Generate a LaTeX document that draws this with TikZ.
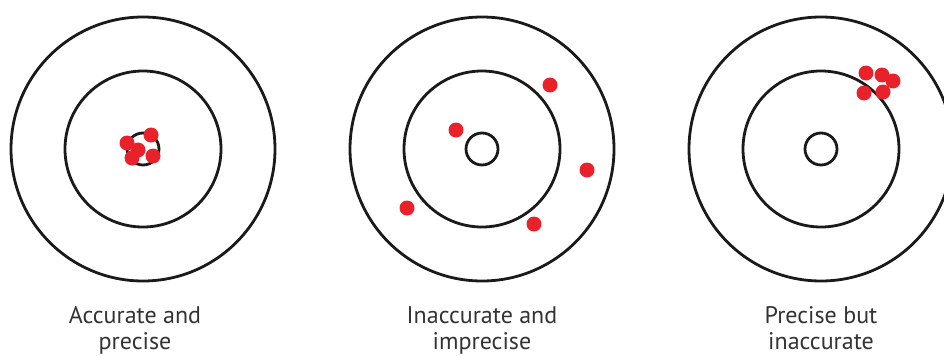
\documentclass[tikz,border=0pt]{standalone}
\usepackage{fontspec}
\setmainfont{PT Sans}
\usetikzlibrary{positioning}

\begin{document}
\begin{tikzpicture}[
    x=1pt, y=-1pt,
    every node/.style={font=\fontsize{24}{26.5}\selectfont},
    ring/.style={circle, draw=ringcolor, line width=2.8pt, inner sep=0pt},
    hit/.style={circle, fill=hitcolor, inner sep=0pt, minimum size=15pt},
]

\definecolor{ringcolor}{HTML}{1A1A1A}
\definecolor{hitcolor}{HTML}{E8212A}   % every shot
\definecolor{textcolor}{HTML}{333333}

% pixel frame of the whole picture
\useasboundingbox (0, 0) rectangle (944, 356);
\clip (0, 0) rectangle (944, 356);

% ------------------------------------------------------------ the three targets
\foreach \name/\cx in {acc/143, imp/482, off/821} {
    \node[ring, minimum size=264pt] (\name-outer) at (\cx, 149) {};
    \node[ring, minimum size=156pt] (\name-inner) at (\cx, 149) {};
    \node[ring, minimum size=32pt]  (\name-eye)   at (\cx, 149) {};
}

% ------------------------------------------------------------ the shots
% accurate and precise: a tight group on the eye
\foreach \i/\x/\y in {1/151/135, 2/127/143, 3/138/150, 4/132/158, 5/153/156}
    \node[hit] (acc-hit\i) at (\x, \y) {};

% inaccurate and imprecise: spread all over
\foreach \i/\x/\y in {1/550/85, 2/456/130, 3/587/170, 4/407/208, 5/534/224}
    \node[hit] (imp-hit\i) at (\x, \y) {};

% precise but inaccurate: a tight group, far from the eye
\foreach \i/\x/\y in {1/866/73, 2/882/75, 3/893/81, 4/864/93, 5/883/92}
    \node[hit] (off-hit\i) at (\x, \y) {};

% ------------------------------------------------------------ captions
% anchor=base sits on the last line here
\node[anchor=base, align=center, text=textcolor] (acc-label)
    at (135, 349.5) {Accurate and\\precise};
\node[anchor=base, align=center, text=textcolor] (imp-label)
    at (482, 349.5) {Inaccurate and\\imprecise};
\node[anchor=base, align=center, text=textcolor] (off-label)
    at (821, 349.5) {Precise but\\inaccurate};

\end{tikzpicture}
\end{document}
